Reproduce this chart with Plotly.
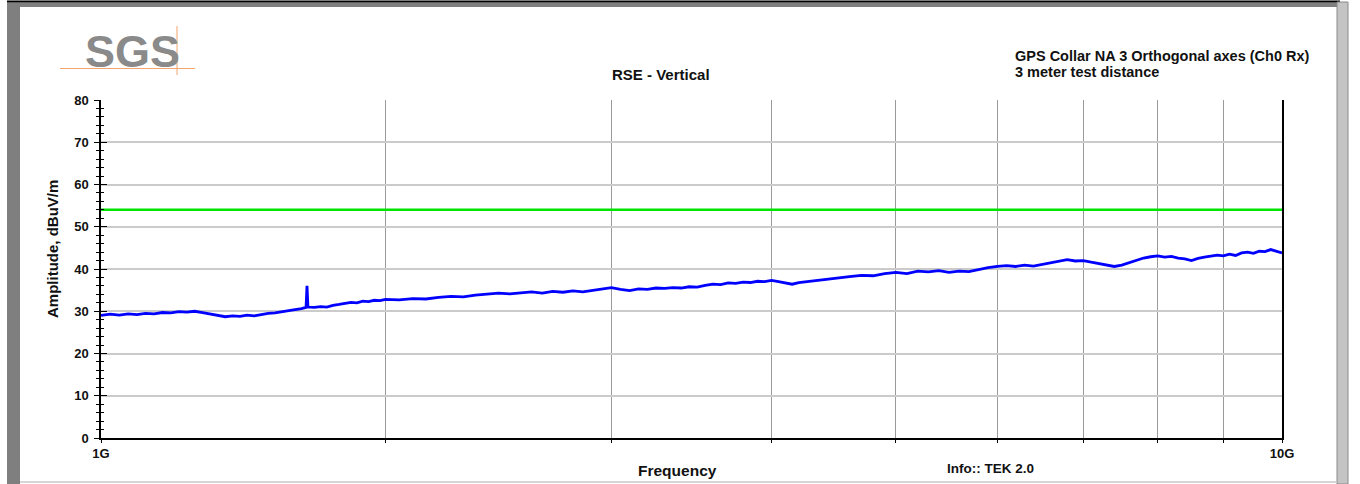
import plotly.graph_objects as go

# ---- data (frequency in GHz, amplitude in dBuV/m) ----
freq_ghz = [
    1.20, 1.22, 1.24, 1.26, 1.28, 1.30, 1.32, 1.34, 1.36, 1.38, 1.40, 1.42, 1.44, 1.46, 1.48,
    1.50, 1.52, 1.54, 1.56, 1.58, 1.60, 1.62, 1.64, 1.66, 1.68, 1.70, 1.72, 1.734, 1.737, 1.740,
    1.76, 1.78, 1.80, 1.82, 1.84, 1.86, 1.88, 1.90, 1.92, 1.94, 1.96, 1.98, 2.00,
    2.05, 2.10, 2.15, 2.20, 2.25, 2.30, 2.35, 2.40, 2.45, 2.50, 2.55, 2.60, 2.65, 2.70, 2.75,
    2.80, 2.85, 2.90, 2.95, 3.00, 3.05, 3.10, 3.15, 3.20, 3.25, 3.30, 3.35, 3.40, 3.45, 3.50,
    3.55, 3.60, 3.65, 3.70, 3.75, 3.80, 3.85, 3.90, 3.95, 4.00,
    4.05, 4.1, 4.15, 4.2, 4.3, 4.4, 4.5, 4.6, 4.7, 4.8, 4.9, 5.0, 5.1, 5.2, 5.3, 5.4, 5.5, 5.6, 5.7, 5.8,
    5.9, 6.0, 6.1, 6.2, 6.3, 6.4, 6.5, 6.6, 6.7, 6.8, 6.9, 7.0, 7.1, 7.2, 7.3, 7.4, 7.5, 7.6,
    7.7, 7.8, 7.9, 8.0, 8.1, 8.2, 8.3, 8.4, 8.5, 8.6, 8.7, 8.8, 8.9, 9.0, 9.1, 9.2, 9.3, 9.4,
    9.5, 9.6, 9.7, 9.8, 9.9, 10.0,
]
amplitude = [
    29.0, 29.3, 29.1, 29.4, 29.2, 29.5, 29.4, 29.7, 29.6, 29.9, 29.8, 30.0, 29.7, 29.4, 29.0,
    28.7, 28.9, 28.8, 29.1, 28.9, 29.2, 29.5, 29.6, 29.9, 30.1, 30.4, 30.6, 30.9, 36.0, 31.0,
    30.9, 31.1, 31.0, 31.4, 31.6, 31.9, 32.1, 32.0, 32.4, 32.3, 32.6, 32.5, 32.8,
    32.7, 33.0, 32.9, 33.3, 33.5, 33.4, 33.8, 34.0, 34.3, 34.1, 34.4, 34.6, 34.3, 34.7, 34.5,
    34.8, 34.6, 35.0, 35.3, 35.6, 35.2, 34.9, 35.3, 35.2, 35.5, 35.4, 35.6, 35.5, 35.8, 35.7,
    36.1, 36.4, 36.3, 36.7, 36.6, 36.9, 36.8, 37.1, 37.0, 37.3,
    37.0, 36.7, 36.4, 36.8, 37.2, 37.6, 37.9, 38.2, 38.5, 38.4, 38.9, 39.2, 38.9, 39.5, 39.3, 39.6, 39.2, 39.5, 39.4, 39.9,
    40.3, 40.6, 40.8, 40.6, 40.9, 40.7, 41.1, 41.5, 41.8, 42.2, 41.9, 42.0, 41.6, 41.3, 41.0, 40.6, 40.9, 41.5,
    42.0, 42.6, 42.9, 43.1, 42.8, 43.0, 42.6, 42.4, 42.0, 42.5, 42.8, 43.0, 43.3, 43.1, 43.5, 43.2, 43.8, 44.0,
    43.7, 44.2, 44.1, 44.6, 44.2, 43.8,
]
limit_freq = [1.2, 10.0]
limit_level = [54, 54]

x_tickvals = [1.2, 2, 3, 4, 5, 6, 7, 8, 9, 10]
x_ticktext = ["1G", "", "", "", "", "", "", "", "", "10G"]
y_range = [0, 80]

# ---- layout geometry (pixels) ----
W, H = 1360, 484
L, R, T, B = 101, 1282, 100, 438
PW, PH = R - L, B - T


def px(x):
    return (x - L) / PW


def py(y):
    return (B - y) / PH


FONT = "Liberation Sans, Arial, sans-serif"
TXT = "#111111"

fig = go.Figure()
fig.add_trace(go.Scatter(x=freq_ghz, y=amplitude, mode="lines",
                         line=dict(color="#0000ff", width=2.8), yaxis="y", showlegend=False))
fig.add_trace(go.Scatter(x=limit_freq, y=limit_level, mode="lines",
                         line=dict(color="#00e400", width=2.5), yaxis="y2", showlegend=False))

shapes = []
# page border decorations
shapes.append(dict(type="rect", xref="paper", yref="paper", x0=px(7), x1=px(20), y0=py(484), y1=py(4),
                   fillcolor="#7f7f7f", line=dict(width=0), layer="above"))
shapes.append(dict(type="rect", xref="paper", yref="paper", x0=px(7), x1=px(1340), y0=py(7), y1=py(2.5),
                   fillcolor="#7f7f7f", line=dict(width=0), layer="above"))
shapes.append(dict(type="line", xref="paper", yref="paper", x0=px(7), x1=px(1340), y0=py(1.5), y1=py(1.5),
                   line=dict(color="#000000", width=2), layer="above"))
shapes.append(dict(type="rect", xref="paper", yref="paper", x0=px(1337), x1=px(1348), y0=py(484), y1=py(2),
                   fillcolor="#c4c4c4", line=dict(color="#8a8a8a", width=1), layer="above"))
shapes.append(dict(type="line", xref="paper", yref="paper", x0=px(20), x1=px(1337), y0=py(482), y1=py(482),
                   line=dict(color="#c8c8c8", width=1.5), layer="above"))
# SGS logo lines
shapes.append(dict(type="line", xref="paper", yref="paper", x0=px(60), x1=px(195), y0=py(68.5), y1=py(68.5),
                   line=dict(color="#f4a56e", width=1)))
shapes.append(dict(type="line", xref="paper", yref="paper", x0=px(177), x1=px(177), y0=py(26), y1=py(75),
                   line=dict(color="#f4a56e", width=1)))

annotations = [
    dict(text="SGS", x=px(132), y=py(51), xref="paper", yref="paper", showarrow=False,
         font=dict(family="Liberation Sans Narrow, Arial Narrow, Liberation Sans, sans-serif", size=45,
                   color="#8a8a8a", weight="bold"),
         xanchor="center", yanchor="middle"),
    dict(text="RSE - Vertical", x=px(661), y=py(75), xref="paper", yref="paper", showarrow=False,
         font=dict(family=FONT, size=15, color=TXT, weight="bold"), xanchor="center", yanchor="middle"),
    dict(text="GPS Collar NA 3 Orthogonal axes (Ch0 Rx)", x=px(1013), y=py(56),
         xref="paper", yref="paper", showarrow=False, align="left",
         font=dict(family=FONT, size=14.5, color=TXT, weight="bold"), xanchor="left", yanchor="middle"),
    dict(text="3 meter test distance", x=px(1013), y=py(72),
         xref="paper", yref="paper", showarrow=False, align="left",
         font=dict(family=FONT, size=14.5, color=TXT, weight="bold"), xanchor="left", yanchor="middle"),
    dict(text="Amplitude, dBuV/m", x=px(52), y=py(249), xref="paper", yref="paper", showarrow=False,
         textangle=-90, font=dict(family=FONT, size=15, color=TXT, weight="bold"),
         xanchor="center", yanchor="middle"),
    dict(text="Frequency", x=px(677), y=py(470), xref="paper", yref="paper", showarrow=False,
         font=dict(family=FONT, size=15.5, color=TXT, weight="bold"), xanchor="center", yanchor="middle"),
    dict(text="Info:: TEK 2.0", x=px(945), y=py(468), xref="paper", yref="paper", showarrow=False,
         font=dict(family=FONT, size=13.5, color=TXT, weight="bold"), xanchor="left", yanchor="middle"),
]

fig.update_layout(
    width=W, height=H,
    margin=dict(l=L, r=W - R, t=T, b=H - B, pad=0),
    paper_bgcolor="white", plot_bgcolor="white",
    font=dict(family=FONT, color=TXT),
    shapes=shapes, annotations=annotations,
    xaxis=dict(type="log", range=[0.0791812, 1.0], tickvals=x_tickvals, ticktext=x_ticktext,
               showgrid=True, gridcolor="#9a9a9a", gridwidth=1,
               showline=True, linecolor="#000000", linewidth=1.5,
               ticks="outside", ticklen=3, tickcolor="#000000",
               tickfont=dict(size=13, color=TXT, weight="bold", family=FONT),
               ticklabelstandoff=0,
               zeroline=False, mirror=False),
    yaxis=dict(range=y_range, dtick=10, tick0=0, showgrid=True, gridcolor="#cbcbcb", gridwidth=1.5,
               showline=True, linecolor="#000000", linewidth=1.5, mirror=True,
               ticks="outside", ticklen=5, tickcolor="#000000", tickwidth=1,
               minor=dict(dtick=2, ticks="outside", ticklen=3, tickcolor="#000000", showgrid=False),
               tickfont=dict(size=13, color=TXT, weight="bold", family=FONT),
               ticklabelstandoff=3,
               zeroline=False),
    yaxis2=dict(range=y_range, dtick=10, tick0=0, overlaying="y", side="left", anchor="x",
                showgrid=False, showline=False, showticklabels=False,
                ticks="inside", ticklen=6, tickcolor="#000000", tickwidth=1,
                minor=dict(dtick=2, ticks="inside", ticklen=3, tickcolor="#000000", showgrid=False),
                zeroline=False),
)

fig.write_html("out.html", config={"displayModeBar": False},
               post_script="document.body.style.margin='0';document.body.style.overflow='hidden';")
